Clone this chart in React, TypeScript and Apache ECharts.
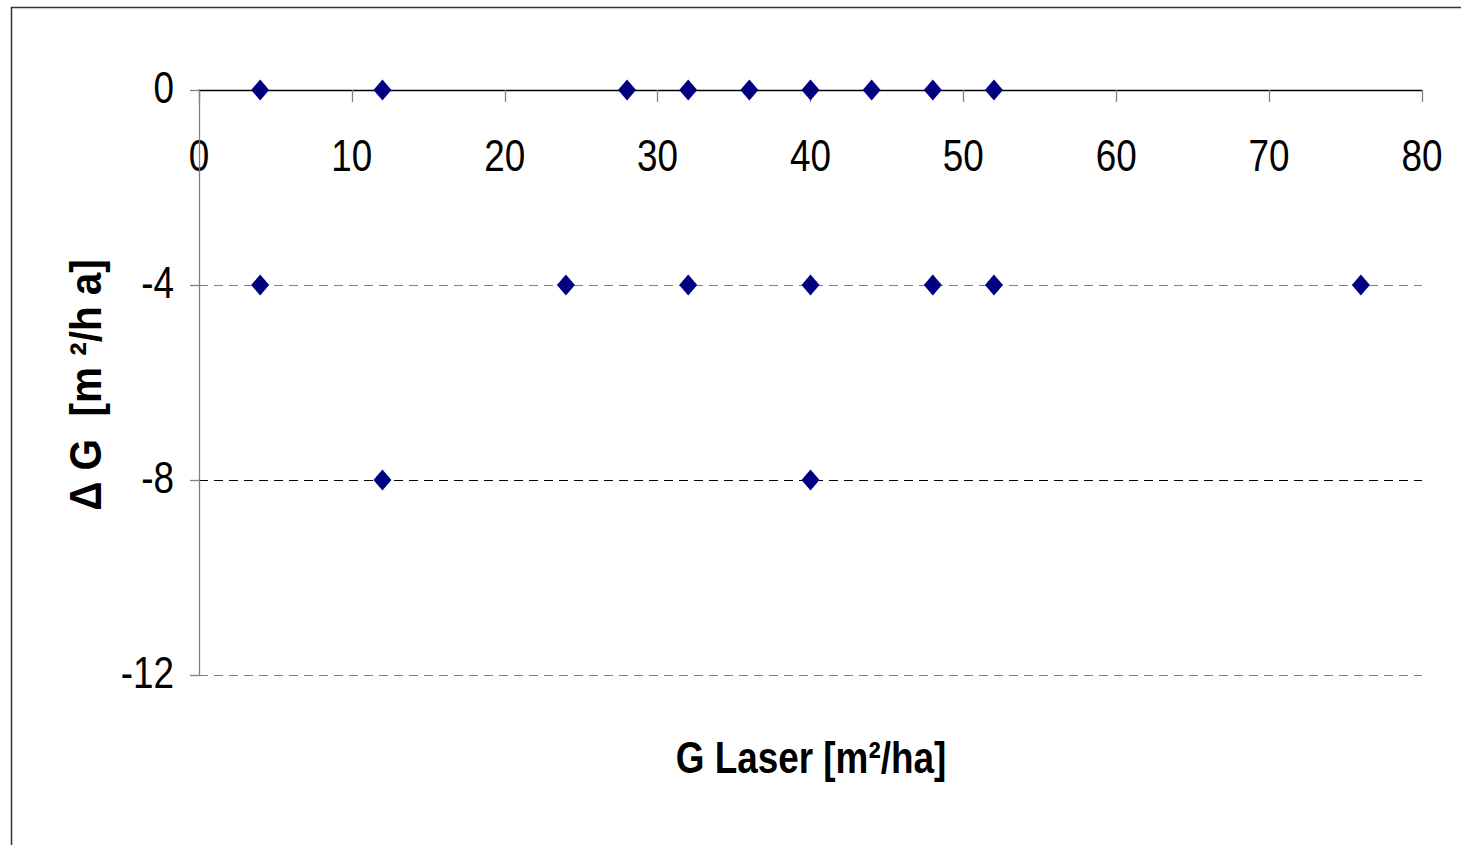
import React, { useEffect, useRef } from "react";
import * as echarts from "echarts";

const xTicks = [0, 10, 20, 30, 40, 50, 60, 70, 80];
const yTicks = [-12, -8, -4, 0];
const gLaser = [4, 12, 28, 32, 36, 40, 44, 48, 52, 4, 24, 32, 40, 48, 52, 76, 12, 40];
const deltaG = [0, 0, 0, 0, 0, 0, 0, 0, 0, -4, -4, -4, -4, -4, -4, -4, -8, -8];
const xAxisTitle = "G Laser [m²/ha]";
const yAxisTitle = "Δ G  [m ²/h a]";

const FONT = "'Liberation Sans Narrow', 'Arial Narrow', 'Liberation Sans', Arial, sans-serif";
const NARROW_SCALE = 0.82;

export default function App() {
  const ref = useRef<HTMLDivElement>(null);
  useEffect(() => {
    document.body.style.margin = "0";
    const chart = echarts.init(ref.current!, null, { renderer: "svg" });
    const points = gLaser.map((x, i) => [x, deltaG[i]]);
    chart.setOption({
      animation: false,
      backgroundColor: "#ffffff",
      grid: { left: 199, top: 90, right: 1461 - 1422, bottom: 845 - 675 },
      xAxis: {
        type: "value",
        position: "top",
        min: xTicks[0],
        max: xTicks[xTicks.length - 1],
        interval: 10,
        axisLine: { show: true, onZero: false, lineStyle: { color: "#000000", width: 1.3 } },
        axisTick: { show: true, inside: true, length: 12, lineStyle: { color: "#808080", width: 1.3 } },
        axisLabel: { show: false },
        splitLine: { show: false },
      },
      yAxis: {
        type: "value",
        min: yTicks[0],
        max: yTicks[yTicks.length - 1],
        interval: 4,
        axisLine: { show: true, onZero: false, lineStyle: { color: "#808080", width: 1.3 } },
        axisTick: { show: true, length: 9, lineStyle: { color: "#808080", width: 1.3 } },
        axisLabel: { show: false },
        splitLine: {
          show: true,
          lineStyle: {
            color: ["#808080", "#000000", "#808080", "#808080"],
            type: [9, 6],
            width: 1,
          },
        },
      },
      series: [
        {
          type: "scatter",
          data: points,
          symbol: "diamond",
          symbolSize: [18, 21],
          itemStyle: { color: "#000080", opacity: 1 },
        },
      ],
    });

    const axisY0 = chart.convertToPixel({ yAxisIndex: 0 }, 0) as number;
    const axisX0 = chart.convertToPixel({ xAxisIndex: 0 }, 0) as number;
    const xLabelEls = xTicks.map((v) => ({
      type: "text",
      x: chart.convertToPixel({ xAxisIndex: 0 }, v) as number,
      y: axisY0 + 66,
      scaleX: NARROW_SCALE,
      silent: true,
      style: {
        text: String(v),
        fontFamily: FONT,
        fontSize: 45,
        fill: "#000000",
        align: "center",
        verticalAlign: "middle",
      },
    }));
    const yLabelEls = yTicks.map((v) => ({
      type: "text",
      x: axisX0 - 25,
      y: (chart.convertToPixel({ yAxisIndex: 0 }, v) as number) - 2,
      scaleX: NARROW_SCALE,
      silent: true,
      style: {
        text: String(v),
        fontFamily: FONT,
        fontSize: 45,
        fill: "#000000",
        align: "right",
        verticalAlign: "middle",
      },
    }));

    chart.setOption({
      graphic: [
        {
          type: "rect",
          shape: { x: 11.5, y: 7.5, width: 1600, height: 1000 },
          style: { fill: "none", stroke: "#333333", lineWidth: 1.5 },
          silent: true,
        },
        ...xLabelEls,
        ...yLabelEls,
        {
          type: "text",
          x: 811,
          y: 758,
          scaleX: NARROW_SCALE,
          silent: true,
          style: {
            text: xAxisTitle,
            fontFamily: FONT,
            fontWeight: "bold",
            fontSize: 45,
            fill: "#000000",
            align: "center",
            verticalAlign: "middle",
          },
        },
        {
          type: "text",
          x: 86,
          y: 385,
          rotation: Math.PI / 2,
          scaleX: 0.92,
          silent: true,
          style: {
            text: yAxisTitle,
            fontFamily: FONT,
            fontWeight: "bold",
            fontSize: 44,
            fill: "#000000",
            align: "center",
            verticalAlign: "middle",
          },
        },
      ],
    });
    return () => chart.dispose();
  }, []);
  return <div ref={ref} style={{ width: 1461, height: 845 }} />;
}
